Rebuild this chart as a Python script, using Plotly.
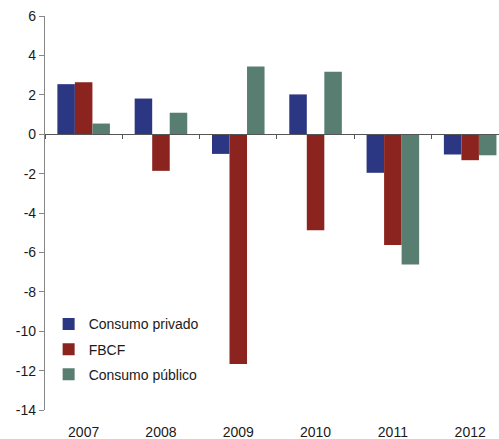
import plotly.graph_objects as go

years = ["2007", "2008", "2009", "2010", "2011", "2012"]
consumo_privado = [2.54, 1.81, -1.00, 2.02, -1.96, -1.03]
fbcf = [2.64, -1.86, -11.66, -4.87, -5.63, -1.32]
consumo_publico = [0.54, 1.09, 3.44, 3.17, -6.61, -1.07]
y_ticks = [6, 4, 2, 0, -2, -4, -6, -8, -10, -12, -14]

series = [
    ("Consumo privado", consumo_privado, "#2B3782"),
    ("FBCF", fbcf, "#8B241E"),
    ("Consumo público", consumo_publico, "#587E72"),
]

fig = go.Figure()
for i, (name, vals, color) in enumerate(series):
    fig.add_trace(go.Bar(
        x=years, y=vals, name=name, legendgroup=f"g{i}",
        marker=dict(color=color, line=dict(width=0)),
    ))

font = dict(family="Liberation Sans, Arial, sans-serif", size=14, color="#1a1a1a")
y_min, y_max = -14, 6

fig.update_layout(
    width=499, height=439,
    margin=dict(l=45, r=0, t=16, b=29),
    paper_bgcolor="white", plot_bgcolor="white",
    barmode="group", bargap=0.32, bargroupgap=0,
    font=font,
    showlegend=True,
    legend=dict(
        x=0.008, y=0.258, xanchor="left", yanchor="top",
        font=font, bgcolor="rgba(0,0,0,0)",
        tracegroupgap=4, traceorder="grouped",
    ),
    # axis carrying the bars: sits on the zero line with boundary ticks
    xaxis=dict(
        range=[-0.5, 5.373],
        anchor="free", position=(0 - y_min) / (y_max - y_min),
        showline=True, linecolor="#555555", linewidth=1.2,
        ticks="outside", tickson="boundaries", ticklen=4,
        tickcolor="#555555", showticklabels=False,
        showgrid=False, zeroline=False,
    ),
    # category labels along the bottom
    xaxis2=dict(
        matches="x", overlaying="x", anchor="y", side="bottom",
        showline=False, ticks="", showgrid=False, zeroline=False,
        tickfont=font, ticklabelstandoff=12,
    ),
    yaxis=dict(
        range=[y_min, y_max], tickvals=y_ticks,
        ticktext=[str(v) for v in y_ticks],
        showline=True, linecolor="#888888", linewidth=1.2,
        ticks="outside", ticklen=5, tickcolor="#888888",
        showgrid=False, zeroline=False, tickfont=font,
    ),
)

# invisible trace so the bottom label axis is drawn
fig.add_trace(go.Bar(x=years, y=[None] * len(years), xaxis="x2",
                     showlegend=False, hoverinfo="skip"))

fig.write_html("out.html")
